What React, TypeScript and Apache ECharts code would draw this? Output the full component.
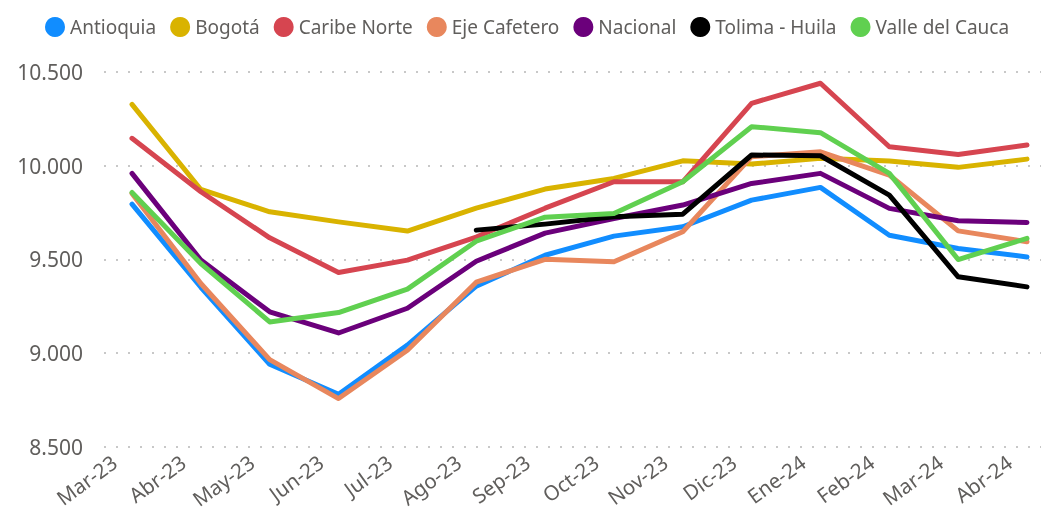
import React, { useEffect, useRef } from "react";
import * as echarts from "echarts";

const months = ["Mar-23", "Abr-23", "May-23", "Jun-23", "Jul-23", "Ago-23", "Sep-23", "Oct-23", "Nov-23", "Dic-23", "Ene-24", "Feb-24", "Mar-24", "Abr-24"];

const antioquia = [9795, 9351, 8940, 8780, 9042, 9357, 9522, 9624, 9674, 9816, 9884, 9629, 9558, 9513];
const bogota = [10327, 9873, 9754, 9700, 9651, 9773, 9875, 9932, 10026, 10009, 10039, 10025, 9991, 10035];
const caribeNorte = [10146, 9861, 9615, 9430, 9496, 9619, 9773, 9914, 9914, 10333, 10440, 10101, 10060, 10110];
const ejeCafetero = [9852, 9371, 8965, 8757, 9015, 9378, 9500, 9487, 9647, 10048, 10074, 9950, 9652, 9594];
const nacional = [9959, 9496, 9220, 9107, 9239, 9490, 9640, 9718, 9790, 9905, 9959, 9772, 9706, 9697];
const tolimaHuila = [null, null, null, null, null, 9656, 9688, 9727, 9741, 10057, 10053, 9843, 9407, 9353];
const valleDelCauca = [9857, 9478, 9166, 9216, 9341, 9597, 9725, 9745, 9914, 10208, 10176, 9959, 9499, 9612];

const seriesNames = ["Antioquia", "Bogotá", "Caribe Norte", "Eje Cafetero", "Nacional", "Tolima - Huila", "Valle del Cauca"];
const seriesData = [antioquia, bogota, caribeNorte, ejeCafetero, nacional, tolimaHuila, valleDelCauca];
const colors = ["#118DFF", "#D9B300", "#D64550", "#E8875D", "#6B007B", "#000000", "#60D050"];

const yMin = 8500;
const yMax = 10500;
const yStep = 500;

const fmt = (v: number) => {
  const s = String(Math.round(v));
  return s.replace(/\B(?=(\d{3})+(?!\d))/g, ".");
};

export default function App() {
  const ref = useRef<HTMLDivElement>(null);
  useEffect(() => {
    if (!ref.current) return;
    const chart = echarts.init(ref.current, null, { renderer: "svg" });
    const font = "Noto Sans";
    chart.setOption({
      animation: false,
      color: colors,
      legend: {
        top: 12,
        left: 40,
        icon: "circle",
        itemWidth: 20,
        itemHeight: 20,
        itemGap: 14,
        textStyle: { fontSize: 19, color: "#605E5C", fontFamily: font },
        data: seriesNames,
      },
      grid: [
        { left: 104, right: 4, top: 72, bottom: 69.3 },
        { left: 132, right: 18, top: 72, bottom: 69.3 },
      ],
      xAxis: [
        { gridIndex: 0, type: "value", min: 0, max: 1, show: false },
        {
          gridIndex: 1,
          type: "category",
          data: months,
          boundaryGap: false,
          axisLine: { show: false },
          axisTick: { show: false },
          axisLabel: {
            rotate: 36,
            margin: 0,
            padding: [0, 22, 0, 0],
            fontSize: 20.5,
            color: "#605E5C",
            fontFamily: font,
            interval: 0,
          },
        },
      ],
      yAxis: [
        {
          gridIndex: 0,
          type: "value",
          min: yMin,
          max: yMax,
          interval: yStep,
          axisLine: { show: false },
          axisTick: { show: false },
          axisLabel: {
            formatter: (v: number) => fmt(v),
            fontSize: 21,
            color: "#605E5C",
            fontFamily: font,
            margin: 21,
          },
          splitLine: {
            lineStyle: { color: "#C8C8C8", width: 2, type: [2, 10] },
          },
        },
        {
          gridIndex: 1,
          type: "value",
          min: yMin,
          max: yMax,
          show: false,
          splitLine: { show: false },
        },
      ],
      series: seriesNames.map((name, i) => ({
        name,
        type: "line",
        xAxisIndex: 1,
        yAxisIndex: 1,
        data: seriesData[i],
        showSymbol: false,
        symbol: "circle",
        lineStyle: { width: 5, color: colors[i], cap: "round", join: "round" },
        itemStyle: { color: colors[i] },
        connectNulls: false,
      })),
    });
    return () => chart.dispose();
  }, []);
  return <div ref={ref} style={{ position: "fixed", left: 0, top: 0, width: 1045, height: 516 }} />;
}
